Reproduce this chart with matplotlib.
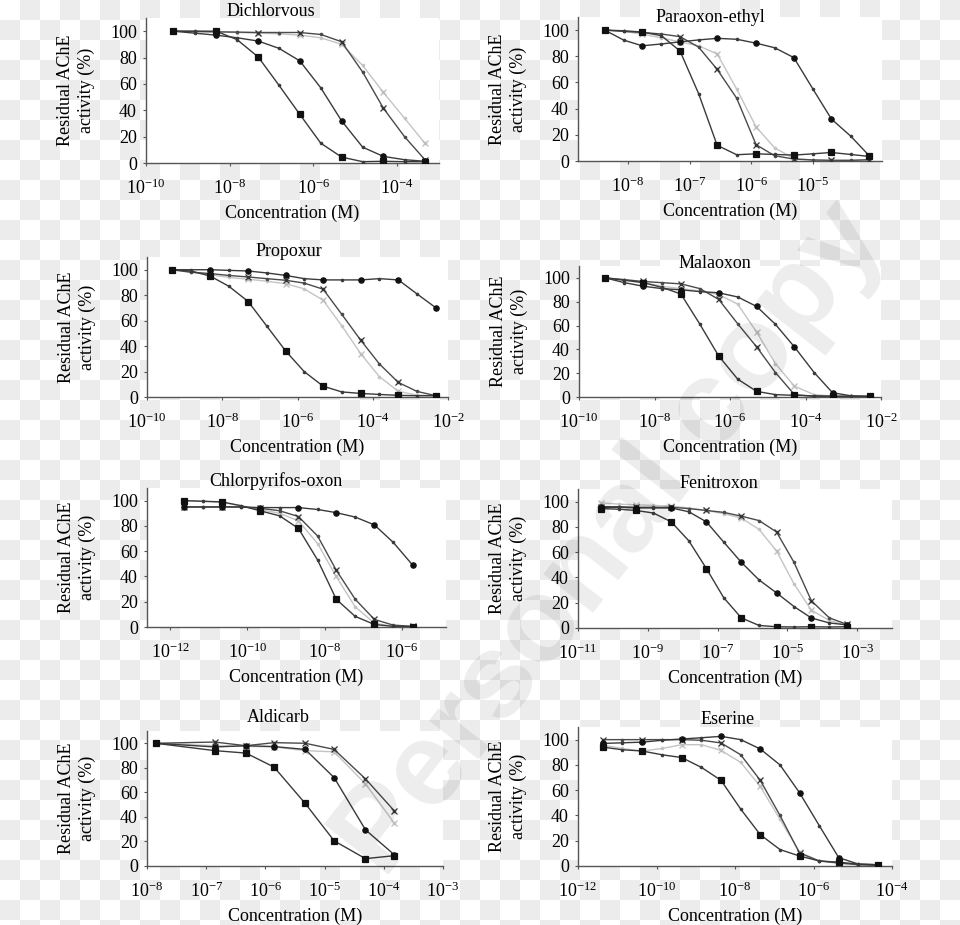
import numpy as np
import matplotlib.pyplot as plt
from matplotlib.ticker import FixedLocator, NullLocator

plt.rcParams["font.family"] = "Liberation Serif"
plt.rcParams["font.size"] = 13
plt.rcParams["mathtext.fontset"] = "custom"
plt.rcParams["mathtext.rm"] = "Liberation Serif"
plt.rcParams["mathtext.default"] = "regular"

# --- data: concentration (M) and residual activity (%) for 4 series per inhibitor
dichlorvous_conc = [4.5e-10, 1.45e-9, 4.7e-9, 1.5e-8, 4.8e-8, 1.5e-7, 4.7e-7, 1.5e-6, 4.7e-6, 1.5e-5, 4.7e-5, 1.5e-4, 4.6e-4]
dichlorvous_sq = [100, 100, 100, 93.6, 80.4, 59, 37, 15, 4.5, 1, 1.3, 1, 1]
dichlorvous_dot = [100, 98.5, 97, 95, 92.5, 87, 77.5, 57, 32, 12, 5, 2.5, 1.3]
dichlorvous_x = [100, 99.7, 99.5, 99.3, 99, 99, 99, 97.5, 92, 69, 41.5, 20, 2.5]
dichlorvous_lx = [100, 100, 99.5, 99, 98.5, 98, 97, 95, 90, 74, 53.5, 34, 15]

paraoxon_conc = [4.2e-9, 8.5e-9, 1.7e-8, 3.5e-8, 7.0e-8, 1.4e-7, 2.8e-7, 5.8e-7, 1.2e-6, 2.4e-6, 4.9e-6, 1.0e-5, 2.0e-5, 4.1e-5, 8.2e-5]
paraoxon_sq = [100, 99.5, 98.5, 95.7, 84, 51.5, 12, 4.8, 5.5, 5, 4.5, 5.5, 6.5, 5, 3.5]
paraoxon_dot = [100, 92.4, 88, 89.4, 91, 92.5, 93.7, 93, 90, 86.5, 79, 55, 32, 19, 4]
paraoxon_x = [100, 99, 98.2, 97, 95, 87, 70, 48, 12.4, 4, 1.5, 0.8, 0.5, 0.5, 1]
paraoxon_lx = [100, 99, 97, 94, 91, 88, 81.8, 55, 26, 10, 2, 0.7, 0.5, 0.5, 0.7]

propoxur_conc = [4.6e-10, 1.5e-9, 4.8e-9, 1.5e-8, 4.9e-8, 1.5e-7, 4.9e-7, 1.5e-6, 4.8e-6, 1.5e-5, 4.8e-5, 1.5e-4, 4.8e-4, 1.5e-3, 4.8e-3]
propoxur_sq = [100, 99, 95, 87, 75, 56, 36, 20, 8.5, 4, 2.8, 2, 1.3, 1, 1]
propoxur_dot = [100, 100, 100, 99.5, 99, 97.5, 95.5, 93, 92, 92, 92, 93, 92, 81, 70]
propoxur_x = [100, 98, 97, 95.5, 94.3, 93, 91.7, 89.5, 84.7, 65, 44.6, 26, 11.4, 4.4, 1]
propoxur_lx = [100, 98, 96, 94, 92.5, 91, 89, 85, 76, 56, 34, 16, 4.4, 1.5, 1]

malaoxon_conc = [5.0e-10, 1.6e-9, 5.1e-9, 1.6e-8, 5.0e-8, 1.6e-7, 5.0e-7, 1.6e-6, 5.1e-6, 1.6e-5, 5.1e-5, 1.7e-4, 5.2e-4, 1.6e-3, 5.1e-3]
malaoxon_sq = [100, 98, 96, 92, 86.5, 61, 34.5, 15, 4.7, 2, 1.4, 1, 0.7, 0.5, 0.5]
malaoxon_dot = [100, 96, 93, 91, 90, 88.5, 87.5, 84, 76, 61, 42, 20.5, 3.6, 1, 0.5]
malaoxon_x = [100, 98.5, 97, 96, 95, 91, 82, 61.5, 42, 20.5, 2, 0.5, 0.5, 0.5, 0.5]
malaoxon_lx = [100, 98.5, 96, 93, 91, 89, 86, 78, 54.4, 28, 9, 2, 0.8, 0.5, 0.5]

chlorpyrifos_conc = [2.3e-12, 7.1e-12, 2.2e-11, 6.8e-11, 2.1e-10, 6.8e-10, 2.1e-9, 6.6e-9, 2.0e-8, 6.2e-8, 1.95e-7, 6.0e-7, 1.95e-6]
chlorpyrifos_sq = [100, 99.5, 99, 96, 92, 88, 78, 53, 22, 8.4, 2, 0.5, 0.3]
chlorpyrifos_dot = [95, 95, 95, 95, 94.5, 94.5, 94.5, 93, 90.5, 87, 80.8, 67, 48.7]
chlorpyrifos_x = [95, 95, 95, 95, 94, 92, 87.4, 72, 45, 22, 6, 1.5, 0.5]
chlorpyrifos_lx = [100, 99.5, 98.5, 96, 93, 90, 84, 66, 40, 16, 3, 0.5, 0.3]

fenitroxon_conc = [4.6e-11, 1.5e-10, 4.6e-10, 1.45e-9, 4.7e-9, 1.5e-8, 4.8e-8, 1.5e-7, 4.8e-7, 1.55e-6, 4.9e-6, 1.55e-5, 4.9e-5, 1.6e-4, 5.0e-4]
fenitroxon_sq = [94.5, 94, 93, 91, 84, 69, 47, 24, 8, 2, 1, 0.8, 1, 0.8, 1]
fenitroxon_dot = [95.5, 95.5, 95, 95, 95, 92, 84, 68, 52, 38, 27.8, 17, 7.9, 4, 2.5]
fenitroxon_x = [96, 96, 95.5, 95.5, 95.5, 94.5, 93, 91.5, 88.5, 85, 76, 52, 21.5, 8, 3]
fenitroxon_lx = [99, 98, 97.5, 97, 96.5, 95, 93, 90.5, 87, 78, 61, 35, 14, 6, 2]

aldicarb_conc = [1.4e-8, 1.4e-7, 4.7e-7, 1.4e-6, 4.7e-6, 1.45e-5, 4.9e-5, 1.5e-4]
aldicarb_sq = [100, 94, 92, 80.6, 51, 20.5, 6, 8.4]
aldicarb_dot = [100, 97, 98, 97.3, 95, 72, 29.5, 9.2]
aldicarb_x = [100, 101, 98, 100.5, 100, 95, 71, 45]
aldicarb_lx = [100, 98, 97.5, 97, 94, 93, 67, 35]

eserine_conc = [4.4e-12, 1.35e-11, 4.3e-11, 1.4e-10, 4.4e-10, 1.4e-9, 4.4e-9, 1.4e-8, 4.4e-8, 1.4e-7, 4.4e-7, 1.4e-6, 4.4e-6, 1.4e-5, 4.4e-5]
eserine_sq = [94, 92, 91, 88, 85.8, 78, 67.8, 45, 24.8, 13, 7.9, 4, 3, 1.5, 1]
eserine_dot = [97, 97.5, 98, 99.5, 100.5, 101.5, 102.6, 100, 92.6, 80, 58, 32, 6.6, 1.5, 1]
eserine_x = [100, 100, 100, 100, 100, 99.5, 97.4, 88, 67.8, 40, 10.3, 4, 2.5, 1, 0.5]
eserine_lx = [95.5, 93, 91, 93, 96, 96, 91.5, 82, 63, 37, 11, 4, 2, 1, 0.5]

yticks = [0, 20, 40, 60, 80, 100]

# name, conc, series, xlim, xtick exponents, marker step,
# axes box in pixels (left, top, right, bottom), title offset in px (dx, dy)
panels = [
    ("Dichlorvous", dichlorvous_conc, (dichlorvous_sq, dichlorvous_dot, dichlorvous_x, dichlorvous_lx),
     (1e-10, 1e-3), [-10, -8, -6, -4], 2, (146, 18, 439, 163), (-22, 6)),
    ("Paraoxon-ethyl", paraoxon_conc, (paraoxon_sq, paraoxon_dot, paraoxon_x, paraoxon_lx),
     (1.55e-9, 1.32e-4), [-8, -7, -6, -5], 2, (578, 17, 882, 161), (-20, 0)),
    ("Propoxur", propoxur_conc, (propoxur_sq, propoxur_dot, propoxur_x, propoxur_lx),
     (1e-10, 1e-2), [-10, -8, -6, -4, -2], 2, (147, 257, 448, 397), (-9, 6)),
    ("Malaoxon", malaoxon_conc, (malaoxon_sq, malaoxon_dot, malaoxon_x, malaoxon_lx),
     (1e-10, 1e-2), [-10, -8, -6, -4, -2], 2, (579, 266, 881, 397), (-15, 3)),
    ("Chlorpyrifos-oxon", chlorpyrifos_conc, (chlorpyrifos_sq, chlorpyrifos_dot, chlorpyrifos_x, chlorpyrifos_lx),
     (2.5e-13, 1.4e-5), [-12, -10, -8, -6], 2, (147, 488, 446, 627), (-21, 7)),
    ("Fenitroxon", fenitroxon_conc, (fenitroxon_sq, fenitroxon_dot, fenitroxon_x, fenitroxon_lx),
     (1e-11, 1e-2), [-11, -9, -7, -5, -3], 2, (578, 489, 892, 628), (-16, 5)),
    ("Aldicarb", aldicarb_conc, (aldicarb_sq, aldicarb_dot, aldicarb_x, aldicarb_lx),
     (1e-8, 1e-3), [-8, -7, -6, -5, -4, -3], 1, (147, 731, 443, 866), (-17, 14)),
    ("Eserine", eserine_conc, (eserine_sq, eserine_dot, eserine_x, eserine_lx),
     (1e-12, 1e-4), [-12, -10, -8, -6, -4], 2, (578, 727, 892, 866), (-7, 8)),
]

# marker, marker size, marker colour, line colour, zorder
styles = [
    ("s", 4.5, "#111111", "#3a3a3a", 4),
    ("o", 3.8, "#111111", "#3a3a3a", 4),
    ("x", 4.5, "#333333", "#4a4a4a", 3),
    ("x", 4.5, "#bdbdbd", "#c4c4c4", 2),
]

W, H = 960, 925
fig = plt.figure(figsize=(W / 100, H / 100), dpi=100)

# transparent-image checkerboard behind everything
cells = np.indices((H, W)) // 20
bg = np.where(cells.sum(axis=0) % 2 == 1, 0.922, 1.0)
fig.figimage(bg, cmap="gray", vmin=0, vmax=1, origin="upper", zorder=-5)

PT = 0.72  # points per pixel at 100 dpi

for name, conc, series, xlim, exps, step, box, toff in panels:
    l, t, r, b = box
    ax = fig.add_axes([l / W, 1 - b / H, (r - l) / W, (b - t) / H])
    ax.set_facecolor("white")
    for vals, (mk, ms, mc, lc, z) in zip(series, styles):
        ax.plot(conc, vals, color=lc, lw=1.0, zorder=z,
                marker="o", ms=1.6, mfc=lc, mec=lc)
        ax.plot(conc[::step], vals[::step], ls="none", marker=mk, ms=ms,
                mfc=mc, mec=mc, mew=0.9, zorder=z + 0.5)
    ax.set_xscale("log")
    ax.set_xlim(*xlim)
    ax.set_ylim(0, 110)
    ax.xaxis.set_major_locator(FixedLocator([10.0 ** e for e in exps]))
    ax.set_xticklabels([f"$10^{{{e}}}$" for e in exps])
    ax.xaxis.set_minor_locator(NullLocator())
    ax.set_yticks(yticks)
    for s in ("top", "right"):
        ax.spines[s].set_visible(False)
    for s in ("left", "bottom"):
        ax.spines[s].set_color("#555555")
        ax.spines[s].set_linewidth(1.0)
    ax.tick_params(axis="x", direction="out", length=2.5, width=0.8, color="#555555", pad=9, labelsize=13)
    ax.tick_params(axis="y", direction="out", length=2.5, width=0.8, color="#555555", pad=4, labelsize=13)

    ax.annotate(name, xy=(0.5, 1), xycoords="axes fraction",
                xytext=(toff[0] * PT, toff[1] * PT), textcoords="offset points",
                ha="center", va="center", fontsize=13)
    ax.annotate("Concentration (M)", xy=(0.5, 0), xycoords="axes fraction",
                xytext=(0, -50 * PT), textcoords="offset points",
                ha="center", va="center", fontsize=13)
    ax.annotate("Residual AChE\nactivity (%)", xy=(0, 0.5), xycoords="axes fraction",
                xytext=(-70 * PT, 0), textcoords="offset points",
                ha="center", va="center", rotation=90, fontsize=13, linespacing=1.3)

fig.text(612 / W, 1 - 540 / H, "Personal copy", rotation=52, rotation_mode="anchor",
         ha="center", va="center", fontsize=86, fontweight="bold",
         family="Liberation Sans", color="black", alpha=0.075, zorder=10)

fig.savefig("out.png", dpi=100)
